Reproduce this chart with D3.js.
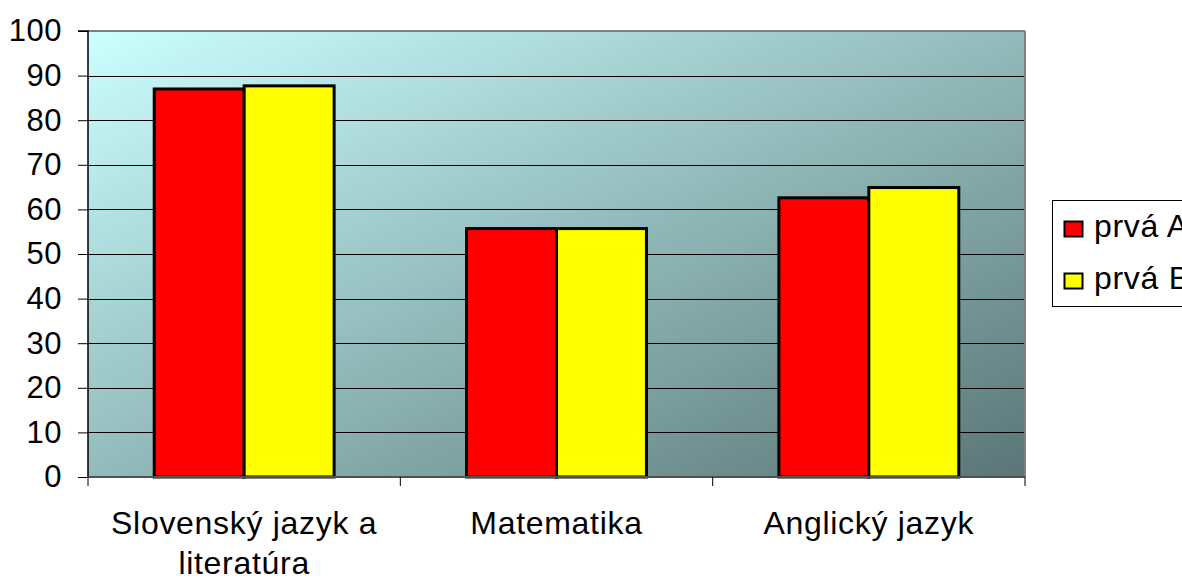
<!DOCTYPE html>
<html><head><meta charset="utf-8">
<script src="https://cdn.jsdelivr.net/npm/d3@7"></script>
<style>body{margin:0;background:#fff;} svg{display:block;} text{font-family:"Liberation Sans",Arial,sans-serif;}</style>
</head><body>
<svg id="c" width="1182" height="579"></svg>
<script>
const categories = [["Slovenský jazyk a","literatúra"],["Matematika"],["Anglický jazyk"]];
const seriesNames = ["prvá A","prvá B"];
const seriesA = [87.0, 55.7, 62.6];
const seriesB = [87.7, 55.7, 64.9];
const yTicks = [0,10,20,30,40,50,60,70,80,90,100];
const colors = ["#ff0000","#ffff00"];

const svg = d3.select("#c");
const L=88, R=1025, T=31, B=477;
const x = d3.scaleBand().domain(d3.range(categories.length)).range([L,R]).padding(0);
const y = d3.scaleLinear().domain([0,100]).range([B,T]);
const bw = x.bandwidth();
const xs = d3.scaleBand().domain([0,1]).range([bw*0.212, bw*0.788]).padding(0);

const defs = svg.append("defs");
const g = defs.append("linearGradient").attr("id","bg").attr("x1","0").attr("y1","0").attr("x2","1").attr("y2","1");
g.append("stop").attr("offset","0").attr("stop-color","#ccffff");
g.append("stop").attr("offset","1").attr("stop-color","#5a7676");

svg.append("rect").attr("x",L).attr("y",T).attr("width",R-L).attr("height",B-T).attr("fill","url(#bg)");

// gridlines
svg.append("g").selectAll("line").data(yTicks.filter(d=>d>0&&d<100)).join("line")
  .attr("x1",L).attr("x2",R).attr("y1",d=>Math.round(y(d))+0.5).attr("y2",d=>Math.round(y(d))+0.5)
  .attr("stroke","#000").attr("stroke-width",1);
// border top/right
svg.append("line").attr("x1",L).attr("x2",R).attr("y1",T).attr("y2",T).attr("stroke","#808080").attr("stroke-width",2);
svg.append("line").attr("x1",R).attr("x2",R).attr("y1",T).attr("y2",B).attr("stroke","#808080").attr("stroke-width",2);

// bars
const data = [seriesA, seriesB];
data.forEach((s,si)=>{
  svg.append("g").selectAll("rect").data(s).join("rect")
    .attr("x",(d,i)=>x(i)+xs(si)).attr("width",xs.bandwidth())
    .attr("y",d=>y(d)).attr("height",d=>B-y(d))
    .attr("fill",colors[si]).attr("stroke","#000").attr("stroke-width",3);
});

// y axis
const yAxis = d3.axisLeft(y).tickValues(yTicks).tickSize(10).tickPadding(16);
const ya = svg.append("g").attr("transform",`translate(${L},0)`).call(yAxis);
ya.select(".domain").attr("stroke","#000").attr("stroke-width",1.5).attr("d",`M-10,${T}H0V${B}`);
ya.selectAll(".tick line").attr("stroke","#000");
ya.selectAll(".tick text").attr("font-size",31).attr("fill","#000").attr("font-family","Liberation Sans, Arial, sans-serif").attr("letter-spacing","0.5px");

// x axis
svg.append("line").attr("x1",L).attr("x2",R).attr("y1",B).attr("y2",B).attr("stroke","#505050").attr("stroke-width",2);
const xt = d3.range(categories.length+1).map(i=> i<categories.length ? x(i) : R);
svg.append("g").selectAll("line").data(xt).join("line")
  .attr("x1",d=>d).attr("x2",d=>d).attr("y1",B).attr("y2",B+9).attr("stroke","#000");
const xl = svg.append("g").selectAll("text").data(categories).join("text")
  .attr("x",(d,i)=>x(i)+x.bandwidth()/2).attr("y",534)
  .attr("text-anchor","middle").attr("font-size",32).attr("letter-spacing","0.7px").attr("fill","#000");
xl.each(function(d){
  const t=d3.select(this);
  d.forEach((line,j)=>t.append("tspan").attr("x",t.attr("x")).attr("dy",j?40:0).text(line));
});

// legend
const lg = svg.append("g");
lg.append("rect").attr("x",1052.5).attr("y",200.5).attr("width",140).attr("height",106).attr("fill","#fff").attr("stroke","#000");
seriesNames.forEach((n,i)=>{
  const yy = [221,273][i];
  lg.append("rect").attr("x",1064.5).attr("y",yy+0.5).attr("width",18).attr("height",15).attr("fill",colors[i]).attr("stroke","#000").attr("stroke-width",2);
  lg.append("text").attr("x",1094).attr("y",yy+16).attr("font-size",32).attr("letter-spacing","0.7px").attr("fill","#000").text(n);
});
</script>
</body></html>
